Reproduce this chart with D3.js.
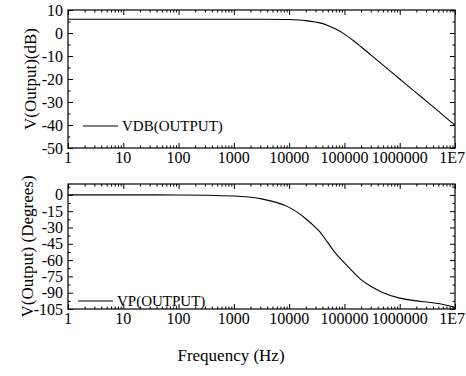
<!DOCTYPE html>
<html>
<head>
<meta charset="utf-8">
<script src="https://cdn.jsdelivr.net/npm/d3@7"></script>
<style>
  body { margin: 0; background: #fff; }
  svg { font-family: "Liberation Serif", "Times New Roman", serif; }
  .tick-label { font-size: 16px; fill: #000; }
  .axis-title { font-size: 17px; fill: #000; }
  .legend { font-size: 15px; fill: #000; }
</style>
</head>
<body>
<div id="chart"></div>
<script>
// frequency sweep, Hz
var freq = [1, 10, 100, 1000, 3000, 10000, 15000, 20000, 30000, 36000, 50000, 70000, 100000,
  150000, 200000, 300000, 500000, 1000000, 2000000, 3000000, 5000000, 7000000, 10000000];
// VDB(OUTPUT), dB
var vdb = [6.0, 6.0, 6.0, 6.0, 6.0, 5.85, 5.65, 5.4, 4.8, 4.4, 3.3, 1.7, -0.5,
  -3.6, -6.0, -9.5, -14.0, -20.0, -26.0, -29.5, -34.0, -37.0, -40.0];
// VP(OUTPUT), degrees
var vp = [0, 0, -0.1, -1.1, -3.4, -11.5, -17, -22, -30, -34, -44, -54, -62.5,
  -72, -78, -84, -90, -95, -97.5, -98.5, -100, -101.5, -103.5];
var xTickValues = [1, 10, 100, 1000, 10000, 100000, 1000000, 10000000];
var xTickLabels = ["1", "10", "100", "1000", "10000", "100000", "1000000", "1E7"];
var dbTicks = [10, 0, -10, -20, -30, -40, -50];
var degTicks = [0, -15, -30, -45, -60, -75, -90, -105];

var width = 466,
  height = 376;
var left = 68,
  right = 455;

var svg = d3.select("#chart").append("svg").attr("width", width).attr("height", height);

var x = d3.scaleLog().domain([1, 10000000]).range([left, right]);
var minorX = x.ticks().filter(function (d) {
  return xTickValues.indexOf(d) < 0;
});

function drawPanel(opts) {
  var y = d3.scaleLinear().domain(opts.domain).range([opts.bottom, opts.top]);
  var g = svg.append("g");

  // inward ticks on all four sides
  var xAxisB = d3.axisTop(x).tickValues(xTickValues).tickSize(5).tickFormat("");
  var xAxisBm = d3.axisTop(x).tickValues(minorX).tickSize(2.5).tickFormat("");
  var xAxisT = d3.axisBottom(x).tickValues(xTickValues).tickSize(5).tickFormat("");
  var xAxisTm = d3.axisBottom(x).tickValues(minorX).tickSize(2.5).tickFormat("");
  var yAxisL = d3.axisRight(y).tickValues(opts.ticks).tickSize(5).tickFormat("");
  var yAxisLm = d3.axisRight(y).tickValues(opts.minor).tickSize(2.5).tickFormat("");
  var yAxisR = d3.axisLeft(y).tickValues(opts.ticks).tickSize(5).tickFormat("");
  var yAxisRm = d3.axisLeft(y).tickValues(opts.minor).tickSize(2.5).tickFormat("");

  [
    [xAxisB, "translate(0," + opts.bottom + ")"],
    [xAxisBm, "translate(0," + opts.bottom + ")"],
    [xAxisT, "translate(0," + opts.top + ")"],
    [xAxisTm, "translate(0," + opts.top + ")"],
    [yAxisL, "translate(" + left + ",0)"],
    [yAxisLm, "translate(" + left + ",0)"],
    [yAxisR, "translate(" + right + ",0)"],
    [yAxisRm, "translate(" + right + ",0)"],
  ].forEach(function (a) {
    var ax = g.append("g").attr("transform", a[1]).call(a[0]);
    ax.select(".domain").remove();
    ax.selectAll("line").attr("stroke", "#000").attr("stroke-width", 1);
  });

  g.append("rect")
    .attr("x", left)
    .attr("y", opts.top)
    .attr("width", right - left)
    .attr("height", opts.bottom - opts.top)
    .attr("fill", "none")
    .attr("stroke", "#000")
    .attr("stroke-width", 1.2);

  g.selectAll(".ylab")
    .data(opts.ticks)
    .enter()
    .append("text")
    .attr("class", "tick-label")
    .attr("x", left - 5)
    .attr("y", function (d) {
      return y(d);
    })
    .attr("dy", "0.35em")
    .attr("text-anchor", "end")
    .text(function (d) {
      return d;
    });

  var last = xTickValues.length - 1;
  g.selectAll(".xlab")
    .data(xTickValues)
    .enter()
    .append("text")
    .attr("class", "tick-label")
    .attr("x", function (d, i) {
      // last label is pulled in so it stays inside the page
      return i === last ? width - 1 : x(d);
    })
    .attr("y", opts.bottom + 14.5)
    .attr("text-anchor", function (d, i) {
      return i === last ? "end" : "middle";
    })
    .text(function (d, i) {
      return xTickLabels[i];
    });

  var line = d3
    .line()
    .x(function (d, i) {
      return x(freq[i]);
    })
    .y(function (d) {
      return y(d);
    })
    .curve(d3.curveMonotoneX);

  g.append("path")
    .attr("d", line(opts.values))
    .attr("fill", "none")
    .attr("stroke", "#000")
    .attr("stroke-width", 1.1);

  g.append("line")
    .attr("x1", opts.legendX)
    .attr("x2", opts.legendX + 35)
    .attr("y1", opts.legendY)
    .attr("y2", opts.legendY)
    .attr("stroke", "#000")
    .attr("stroke-width", 1);
  g.append("text")
    .attr("class", "legend")
    .attr("x", opts.legendX + 39)
    .attr("y", opts.legendY)
    .attr("dy", "0.35em")
    .text(opts.legend);

  g.append("text")
    .attr("class", "axis-title")
    .attr("transform", "translate(" + opts.titleX + "," + (opts.top + opts.bottom) / 2 + ") rotate(-90)")
    .attr("text-anchor", "middle")
    .attr("dy", "0.35em")
    .text(opts.title);
}

drawPanel({
  top: 10,
  bottom: 148,
  domain: [-50, 10],
  ticks: dbTicks,
  minor: [5, -5, -15, -25, -35, -45],
  values: vdb,
  legend: "VDB(OUTPUT)",
  legendX: 83,
  legendY: 126,
  title: "V(Output)(dB)",
  titleX: 30,
});

drawPanel({
  top: 184,
  bottom: 309,
  domain: [-105, 10],
  ticks: degTicks,
  minor: [7.5, -7.5, -22.5, -37.5, -52.5, -67.5, -82.5, -97.5],
  values: vp,
  legend: "VP(OUTPUT)",
  legendX: 78,
  legendY: 301,
  title: "V(Output) (Degrees)",
  titleX: 27,
});

svg
  .append("text")
  .attr("class", "axis-title")
  .attr("x", 231)
  .attr("y", 361)
  .attr("text-anchor", "middle")
  .text("Frequency (Hz)");
</script>
</body>
</html>
